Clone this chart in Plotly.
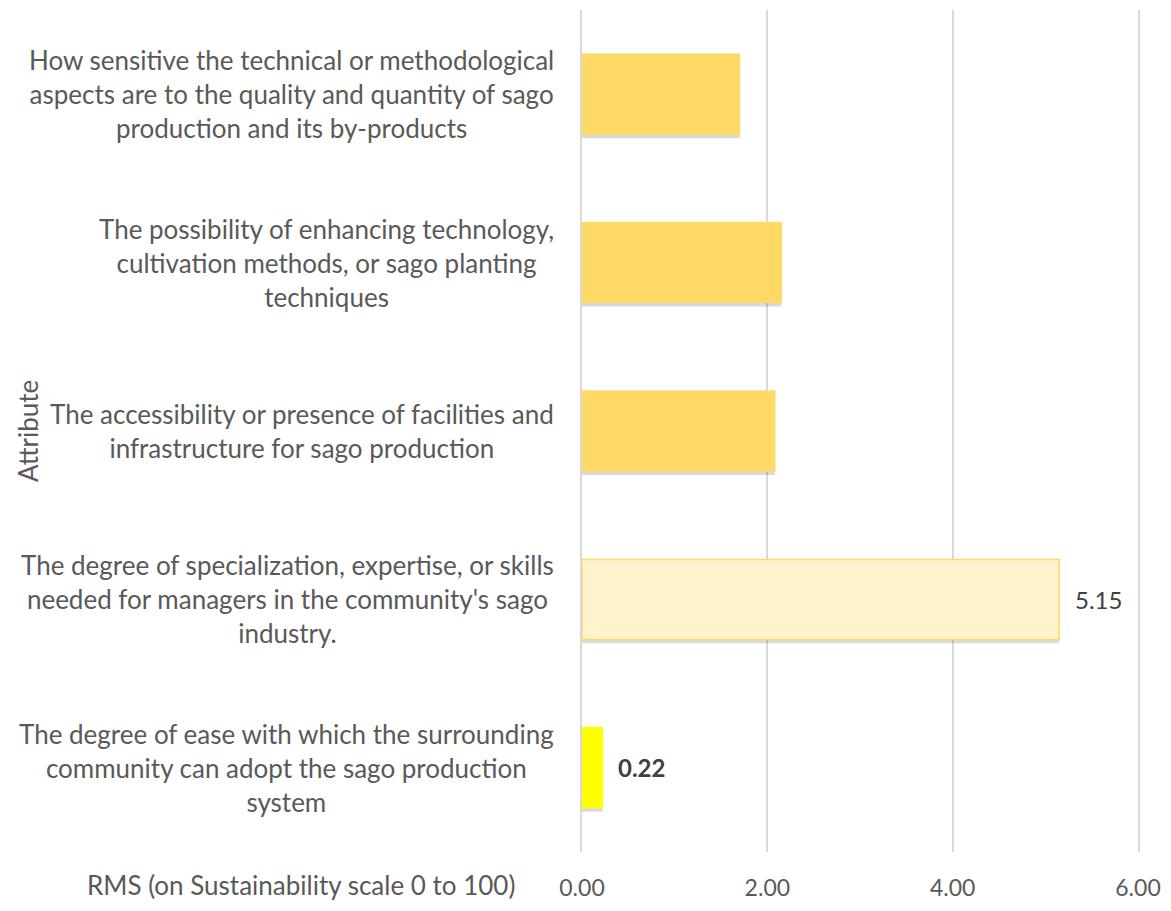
import plotly.graph_objects as go

categories = [
    "How sensitive the technical or methodological<br>aspects are to the quality and quantity of sago<br>production and its by-products",
    "The possibility of enhancing technology,<br>cultivation methods, or sago planting<br>techniques",
    "The accessibility or presence of facilities and<br>infrastructure for sago production",
    "The degree of specialization, expertise, or skills<br>needed for managers in the community's sago<br>industry.",
    "The degree of ease with which the surrounding<br>community can adopt the sago production<br>system",
]
rms_values = [1.70, 2.15, 2.08, 5.15, 0.22]
bar_colors = ["#FFD966", "#FFD966", "#FFD966", "#FFF2CC", "#FFFF00"]
bar_line_colors = ["#FFD966", "#FFD966", "#FFD966", "#FFD966", "#FFFF00"]
value_labels = ["", "", "", "5.15", "<b>0.22</b>"]
tick_vals = [0, 2, 4, 6]
tick_text = ["0.00", "2.00", "4.00", "6.00"]

FONT = "Lato"
GREY = "#595959"
BAR_W = 0.475
band_px = (911 - 10 - 49) / len(categories)

ypos = list(range(len(categories)))

fig = go.Figure()
# soft drop shadow under each bar
fig.add_trace(go.Bar(
    x=rms_values, y=ypos, orientation="h",
    width=BAR_W, offset=-BAR_W / 2 + 4 / band_px,
    marker=dict(color="rgba(0,0,0,0.15)", line=dict(width=0)),
    showlegend=False, hoverinfo="skip",
))
fig.add_trace(go.Bar(
    x=rms_values, y=ypos, orientation="h",
    width=BAR_W, offset=-BAR_W / 2,
    marker=dict(color=bar_colors, line=dict(color=bar_line_colors, width=1.5)),
    showlegend=False, hoverinfo="x",
))

annotations = []
for i, cat in enumerate(categories):
    annotations.append(dict(
        x=0, xref="paper", y=i, yref="y",
        text=cat, showarrow=False, xanchor="right", yanchor="middle",
        align="center", xshift=-26,
        font=dict(family=FONT, size=26, color=GREY),
    ))
for i, (v, lab) in enumerate(zip(rms_values, value_labels)):
    if lab:
        annotations.append(dict(
            x=v, xref="x", y=i, yref="y", text=lab, showarrow=False,
            xanchor="left", yanchor="middle", xshift=14,
            font=dict(family=FONT, size=24, color="#404040"),
        ))
annotations.append(dict(
    x=-0.1167, xref="paper", y=0, yref="paper", yshift=-33,
    text="RMS (on Sustainability scale 0 to 100)", showarrow=False,
    xanchor="right", yanchor="middle",
    font=dict(family=FONT, size=26, color=GREY),
))
annotations.append(dict(
    x=-0.9964, xref="paper", y=0.5, yref="paper",
    text="Attribute", showarrow=False, textangle=-90,
    xanchor="center", yanchor="middle",
    font=dict(family=FONT, size=26, color=GREY),
))

fig.update_layout(
    width=1171, height=911,
    margin=dict(l=582, r=32, t=10, b=49),
    paper_bgcolor="white", plot_bgcolor="white",
    barmode="overlay",
    annotations=annotations,
    font=dict(family=FONT, color=GREY),
    xaxis=dict(
        range=[0, 6], tickvals=tick_vals, ticktext=tick_text,
        showgrid=True, gridcolor="#D9D9D9", gridwidth=1.5,
        zeroline=False, showline=False, ticks="",
        tickfont=dict(family=FONT, size=23, color=GREY),
        ticklabelstandoff=20, fixedrange=True,
    ),
    yaxis=dict(
        range=[4.5, -0.5], showticklabels=False, showgrid=False,
        zeroline=False, showline=True, mirror=True,
        linecolor="#D9D9D9", linewidth=1.5, ticks="", fixedrange=True,
    ),
)

fig.write_html(
    "out.html",
    config={"displayModeBar": False},
    post_script="document.body.style.margin='0';",
)
